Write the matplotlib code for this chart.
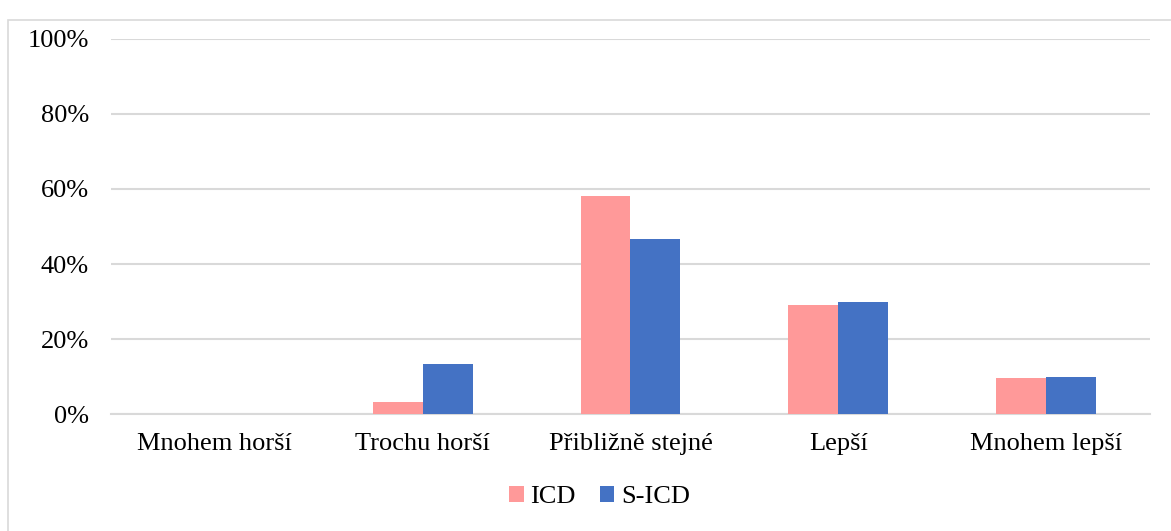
import matplotlib.pyplot as plt
import numpy as np
from matplotlib.patches import Rectangle
from matplotlib.ticker import PercentFormatter

categories = ["Mnohem horší", "Trochu horší", "Přibližně stejné", "Lepší", "Mnohem lepší"]
icd = [0.0, 3.2, 58.1, 29.0, 9.7]
sicd = [0.0, 13.3, 46.7, 30.0, 10.0]
series_names = ["ICD", "S-ICD"]
colors = ["#FF9999", "#4472C4"]

serif = ['Liberation Serif', 'DejaVu Serif']
plt.rcParams['font.family'] = serif

fig = plt.figure(figsize=(11.71, 5.31), dpi=100)
ax = fig.add_axes([0.0948, 0.2203, 0.8872, 0.7063])

# chart frame
fig.patches.append(Rectangle((8 / 1171, -0.1), 1.2, (531 - 20) / 531 + 0.1,
                             transform=fig.transFigure, fill=False,
                             edgecolor="#D9D9D9", linewidth=1.2))

x = np.arange(len(categories))
w = 0.24
ax.bar(x - w / 2, icd, w, color=colors[0], label=series_names[0], zorder=3)
ax.bar(x + w / 2, sicd, w, color=colors[1], label=series_names[1], zorder=3)

ax.set_xlim(-0.5, len(categories) - 0.5)
ax.set_ylim(0, 100)
ax.set_yticks(np.arange(0, 101, 20))
ax.yaxis.set_major_formatter(PercentFormatter(decimals=0))
ax.set_xticks(x)
ax.set_xticklabels(categories)
ax.tick_params(axis='both', length=0, labelsize=19)
ax.tick_params(axis='y', pad=16)
ax.tick_params(axis='x', pad=14)
ax.grid(axis='y', color="#D9D9D9", linewidth=1.5, zorder=0)
for s in ["top", "right", "left"]:
    ax.spines[s].set_visible(False)
ax.spines["bottom"].set_color("#D9D9D9")
ax.spines["bottom"].set_linewidth(1.5)

fig.legend(loc="center", bbox_to_anchor=(0.512, 0.064), ncol=2, frameon=False,
           prop={'family': serif, 'size': 19}, handlelength=0.55, handleheight=0.55,
           handletextpad=0.25, columnspacing=0.9)

fig.savefig("out.png", dpi=100)
